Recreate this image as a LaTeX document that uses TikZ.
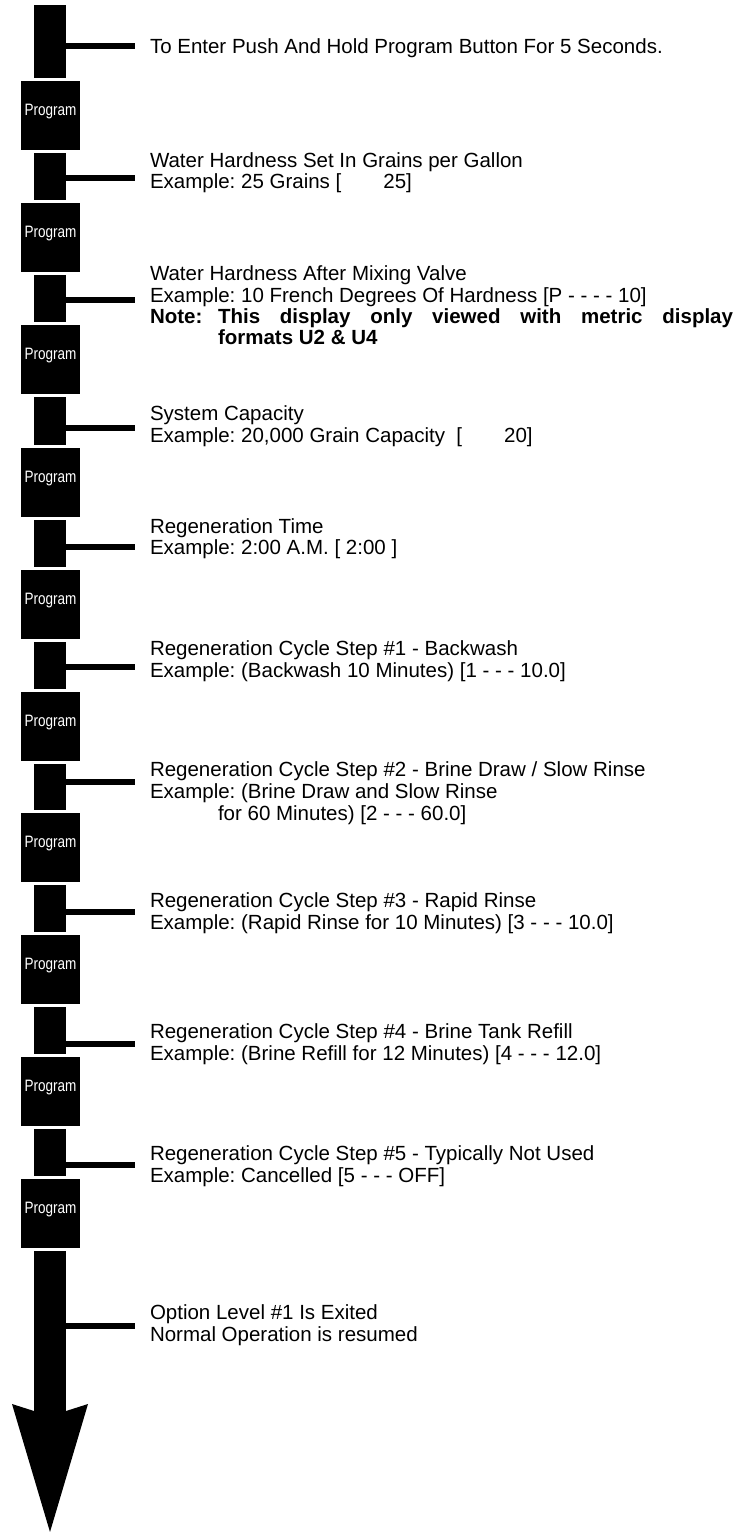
\documentclass[tikz,border=0pt]{standalone}
\usepackage{fontspec}
\setmainfont{Liberation Sans}
\newfontfamily\narrowfont[FakeStretch=0.82]{Liberation Sans}
\frenchspacing
\begin{document}
\frenchspacing
\begin{tikzpicture}[x=1pt,y=-1pt,
  bar/.style={fill=black,inner sep=0pt,outer sep=0pt,minimum width=32pt,anchor=north west},
  pbox/.style={fill=black,text=white,inner sep=0pt,outer sep=0pt,minimum width=59pt,minimum height=69pt,anchor=north west,font=\narrowfont\fontsize{16.5}{17}\selectfont,text height=8pt,text depth=8pt},
  txt/.style={anchor=base west,inner sep=0pt,outer sep=0pt,font=\fontsize{20.5}{22}\selectfont},
  btxt/.style={txt,font=\fontsize{20.5}{22}\selectfont\bfseries},
  conn/.style={line width=6pt}]
\path[use as bounding box,fill=white] (0,0) rectangle (751,1532);

% vertical bars
\node[bar,minimum height=73pt] (b1) at (34,5) {};
\node[bar,minimum height=47pt] (b2) at (34,153) {};
\node[bar,minimum height=47pt] (b3) at (34,275) {};
\node[bar,minimum height=48pt] (b4) at (34,397) {};
\node[bar,minimum height=47pt] (b5) at (34,520) {};
\node[bar,minimum height=47pt] (b6) at (34,642) {};
\node[bar,minimum height=46pt] (b7) at (34,764) {};
\node[bar,minimum height=47pt] (b8) at (34,885) {};
\node[bar,minimum height=47pt] (b9) at (34,1007) {};
\node[bar,minimum height=47pt] (b10) at (34,1129) {};
\node[bar,minimum height=160pt] (b11) at (34,1251) {};

% program boxes
\node[pbox] (p1) at (21,81) {Program};
\node[pbox] (p2) at (21,203) {Program};
\node[pbox] (p3) at (21,325) {Program};
\node[pbox] (p4) at (21,448) {Program};
\node[pbox] (p5) at (21,570) {Program};
\node[pbox] (p6) at (21,692) {Program};
\node[pbox] (p7) at (21,813) {Program};
\node[pbox] (p8) at (21,935) {Program};
\node[pbox] (p9) at (21,1057) {Program};
\node[pbox] (p10) at (21,1179) {Program};

% arrow head
\fill (b11.south east) -- (88,1404) -- (50,1532) -- (12,1404) -- (b11.south west) -- cycle;

% connector ends
\coordinate (e1) at (135,46);
\coordinate (e2) at (135,178);
\coordinate (e3) at (135,300);
\coordinate (e4) at (135,428);
\coordinate (e5) at (135,547);
\coordinate (e6) at (135,667);
\coordinate (e7) at (135,782);
\coordinate (e8) at (135,912);
\coordinate (e9) at (135,1044);
\coordinate (e10) at (135,1165);
\coordinate (e11) at (135,1326);
\foreach \i in {1,...,11}{\draw[conn] (b\i.east |- e\i) -- (e\i);}

% texts
\node[txt] (t1) at (150,53) {To Enter Push And Hold Program Button For 5 Seconds.};
\node[txt] (t2a) at (150,167) {Water Hardness Set In Grains per Gallon};
\node[txt] (t2b) at (150,188) {Example: 25 Grains [\hspace{42pt}25]};
\node[txt] (t3a) at (150,280) {Water Hardness After Mixing Valve};
\node[txt] (t3b) at (150,302) {Example: 10 French Degrees Of Hardness [P - - - - 10]};
\node[btxt] (t3c) at (150,323) {Note:};
\node[btxt] (t3d) at (218,323) {\hbox to 515pt{This\hfil display\hfil only\hfil viewed\hfil with\hfil metric\hfil display}};
\node[btxt] (t3e) at (218,344) {formats U2 \& U4};
\node[txt] (t4a) at (150,420) {System Capacity};
\node[txt] (t4b) at (150,442) {Example: 20,000 Grain Capacity \ [\hspace{42pt}20]};
\node[txt] (t5a) at (150,533) {Regeneration Time};
\node[txt] (t5b) at (150,554) {Example: 2:00 A.M. [ 2:00 ]};
\node[txt] (t6a) at (150,655) {Regeneration Cycle Step \#1 - Backwash};
\node[txt] (t6b) at (150,677) {Example: (Backwash 10 Minutes) [1 - - - 10.0]};
\node[txt] (t7a) at (150,776) {Regeneration Cycle Step \#2 - Brine Draw / Slow Rinse};
\node[txt] (t7b) at (150,798) {Example: (Brine Draw and Slow Rinse};
\node[txt] (t7c) at (218,820) {for 60 Minutes) [2 - - - 60.0]};
\node[txt] (t8a) at (150,907) {Regeneration Cycle Step \#3 - Rapid Rinse};
\node[txt] (t8b) at (150,929) {Example: (Rapid Rinse for 10 Minutes) [3 - - - 10.0]};
\node[txt] (t9a) at (150,1038) {Regeneration Cycle Step \#4 - Brine Tank Refill};
\node[txt] (t9b) at (150,1060) {Example: (Brine Refill for 12 Minutes) [4 - - - 12.0]};
\node[txt] (t10a) at (150,1160) {Regeneration Cycle Step \#5 - Typically Not Used};
\node[txt] (t10b) at (150,1182) {Example: Cancelled [5 - - - OFF]};
\node[txt] (t11a) at (150,1319) {Option Level \#1 Is Exited};
\node[txt] (t11b) at (150,1341) {Normal Operation is resumed};
\end{tikzpicture}
\end{document}
